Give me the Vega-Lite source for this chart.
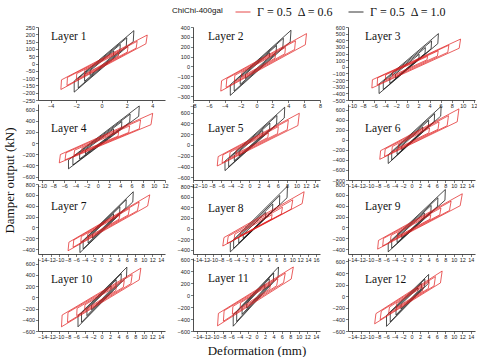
{
"$schema":"https://vega.github.io/schema/vega-lite/v6.json",
"padding":{"left":2,"top":4,"right":0,"bottom":0},
"bounds":"flush",
"columns":3,
"spacing":{"row":4,"column":28},
"datasets":{"d":[
{"p":1,"s":"1.0","l":1,"x":-2.15,"y":-196},{"p":1,"s":"1.0","l":1,"x":-2.15,"y":-120},{"p":1,"s":"1.0","l":1,"x":2.55,"y":225},{"p":1,"s":"1.0","l":1,"x":2.5,"y":150},
{"p":1,"s":"1.0","l":2,"x":-1.83,"y":-167},{"p":1,"s":"1.0","l":2,"x":-1.83,"y":-102},{"p":1,"s":"1.0","l":2,"x":1.99,"y":176},{"p":1,"s":"1.0","l":2,"x":1.95,"y":117},
{"p":1,"s":"1.0","l":3,"x":-1.33,"y":-122},{"p":1,"s":"1.0","l":3,"x":-1.33,"y":-74},{"p":1,"s":"1.0","l":3,"x":1.48,"y":131},{"p":1,"s":"1.0","l":3,"x":1.45,"y":87},
{"p":1,"s":"1.0","l":4,"x":-0.9,"y":-82},{"p":1,"s":"1.0","l":4,"x":-0.9,"y":-50},{"p":1,"s":"1.0","l":4,"x":0.97,"y":86},{"p":1,"s":"1.0","l":4,"x":0.95,"y":57},
{"p":1,"s":"0.6","l":1,"x":-3.2,"y":-178},{"p":1,"s":"0.6","l":1,"x":-3.15,"y":-112},{"p":1,"s":"0.6","l":1,"x":3.6,"y":195},{"p":1,"s":"0.6","l":1,"x":3.5,"y":135},
{"p":1,"s":"0.6","l":2,"x":-2.72,"y":-151},{"p":1,"s":"0.6","l":2,"x":-2.68,"y":-95},{"p":1,"s":"0.6","l":2,"x":2.81,"y":152},{"p":1,"s":"0.6","l":2,"x":2.73,"y":105},
{"p":1,"s":"0.6","l":3,"x":-1.98,"y":-110},{"p":1,"s":"0.6","l":3,"x":-1.95,"y":-69},{"p":1,"s":"0.6","l":3,"x":2.09,"y":113},{"p":1,"s":"0.6","l":3,"x":2.03,"y":78},
{"p":1,"s":"0.6","l":4,"x":-1.34,"y":-75},{"p":1,"s":"0.6","l":4,"x":-1.32,"y":-47},{"p":1,"s":"0.6","l":4,"x":1.37,"y":74},{"p":1,"s":"0.6","l":4,"x":1.33,"y":51},

{"p":2,"s":"1.0","l":1,"x":-3.3,"y":-293},{"p":2,"s":"1.0","l":1,"x":-3.3,"y":-185},{"p":2,"s":"1.0","l":1,"x":4.35,"y":367},{"p":2,"s":"1.0","l":1,"x":4.25,"y":250},
{"p":2,"s":"1.0","l":2,"x":-2.81,"y":-249},{"p":2,"s":"1.0","l":2,"x":-2.81,"y":-157},{"p":2,"s":"1.0","l":2,"x":3.39,"y":286},{"p":2,"s":"1.0","l":2,"x":3.32,"y":195},
{"p":2,"s":"1.0","l":3,"x":-2.05,"y":-182},{"p":2,"s":"1.0","l":3,"x":-2.05,"y":-115},{"p":2,"s":"1.0","l":3,"x":2.52,"y":213},{"p":2,"s":"1.0","l":3,"x":2.47,"y":145},
{"p":2,"s":"1.0","l":4,"x":-1.39,"y":-123},{"p":2,"s":"1.0","l":4,"x":-1.39,"y":-78},{"p":2,"s":"1.0","l":4,"x":1.65,"y":139},{"p":2,"s":"1.0","l":4,"x":1.62,"y":95},
{"p":2,"s":"0.6","l":1,"x":-4.5,"y":-250},{"p":2,"s":"0.6","l":1,"x":-4.4,"y":-145},{"p":2,"s":"0.6","l":1,"x":6.3,"y":333},{"p":2,"s":"0.6","l":1,"x":6.15,"y":220},
{"p":2,"s":"0.6","l":2,"x":-3.83,"y":-213},{"p":2,"s":"0.6","l":2,"x":-3.74,"y":-123},{"p":2,"s":"0.6","l":2,"x":4.91,"y":260},{"p":2,"s":"0.6","l":2,"x":4.8,"y":172},
{"p":2,"s":"0.6","l":3,"x":-2.79,"y":-155},{"p":2,"s":"0.6","l":3,"x":-2.73,"y":-90},{"p":2,"s":"0.6","l":3,"x":3.65,"y":193},{"p":2,"s":"0.6","l":3,"x":3.57,"y":128},
{"p":2,"s":"0.6","l":4,"x":-1.89,"y":-105},{"p":2,"s":"0.6","l":4,"x":-1.85,"y":-61},{"p":2,"s":"0.6","l":4,"x":2.39,"y":127},{"p":2,"s":"0.6","l":4,"x":2.34,"y":84},

{"p":3,"s":"1.0","l":1,"x":-5.1,"y":-403},{"p":3,"s":"1.0","l":1,"x":-5.1,"y":-260},{"p":3,"s":"1.0","l":1,"x":5.6,"y":500},{"p":3,"s":"1.0","l":1,"x":5.5,"y":350},
{"p":3,"s":"1.0","l":2,"x":-4.34,"y":-343},{"p":3,"s":"1.0","l":2,"x":-4.34,"y":-221},{"p":3,"s":"1.0","l":2,"x":4.37,"y":390},{"p":3,"s":"1.0","l":2,"x":4.29,"y":273},
{"p":3,"s":"1.0","l":3,"x":-3.16,"y":-250},{"p":3,"s":"1.0","l":3,"x":-3.16,"y":-161},{"p":3,"s":"1.0","l":3,"x":3.25,"y":290},{"p":3,"s":"1.0","l":3,"x":3.19,"y":203},
{"p":3,"s":"1.0","l":4,"x":-2.14,"y":-169},{"p":3,"s":"1.0","l":4,"x":-2.14,"y":-109},{"p":3,"s":"1.0","l":4,"x":2.13,"y":190},{"p":3,"s":"1.0","l":4,"x":2.09,"y":133},
{"p":3,"s":"0.6","l":1,"x":-6.4,"y":-320},{"p":3,"s":"0.6","l":1,"x":-6.3,"y":-195},{"p":3,"s":"0.6","l":1,"x":9.6,"y":418},{"p":3,"s":"0.6","l":1,"x":9.35,"y":280},
{"p":3,"s":"0.6","l":2,"x":-5.44,"y":-272},{"p":3,"s":"0.6","l":2,"x":-5.36,"y":-166},{"p":3,"s":"0.6","l":2,"x":7.49,"y":326},{"p":3,"s":"0.6","l":2,"x":7.29,"y":218},
{"p":3,"s":"0.6","l":3,"x":-3.97,"y":-198},{"p":3,"s":"0.6","l":3,"x":-3.91,"y":-121},{"p":3,"s":"0.6","l":3,"x":5.57,"y":242},{"p":3,"s":"0.6","l":3,"x":5.42,"y":162},
{"p":3,"s":"0.6","l":4,"x":-2.69,"y":-134},{"p":3,"s":"0.6","l":4,"x":-2.65,"y":-82},{"p":3,"s":"0.6","l":4,"x":3.65,"y":159},{"p":3,"s":"0.6","l":4,"x":3.55,"y":106},

{"p":4,"s":"1.0","l":1,"x":-5.25,"y":-460},{"p":4,"s":"1.0","l":1,"x":-5.25,"y":-300},{"p":4,"s":"1.0","l":1,"x":7.4,"y":665},{"p":4,"s":"1.0","l":1,"x":7.3,"y":480},
{"p":4,"s":"1.0","l":2,"x":-4.46,"y":-391},{"p":4,"s":"1.0","l":2,"x":-4.46,"y":-255},{"p":4,"s":"1.0","l":2,"x":5.77,"y":519},{"p":4,"s":"1.0","l":2,"x":5.69,"y":374},
{"p":4,"s":"1.0","l":3,"x":-3.26,"y":-285},{"p":4,"s":"1.0","l":3,"x":-3.26,"y":-186},{"p":4,"s":"1.0","l":3,"x":4.29,"y":386},{"p":4,"s":"1.0","l":3,"x":4.23,"y":278},
{"p":4,"s":"1.0","l":4,"x":-2.21,"y":-193},{"p":4,"s":"1.0","l":4,"x":-2.21,"y":-126},{"p":4,"s":"1.0","l":4,"x":2.81,"y":253},{"p":4,"s":"1.0","l":4,"x":2.77,"y":182},
{"p":4,"s":"0.6","l":1,"x":-6.9,"y":-353},{"p":4,"s":"0.6","l":1,"x":-6.7,"y":-204},{"p":4,"s":"0.6","l":1,"x":9.8,"y":533},{"p":4,"s":"0.6","l":1,"x":9.5,"y":330},
{"p":4,"s":"0.6","l":2,"x":-5.87,"y":-300},{"p":4,"s":"0.6","l":2,"x":-5.7,"y":-173},{"p":4,"s":"0.6","l":2,"x":7.64,"y":416},{"p":4,"s":"0.6","l":2,"x":7.41,"y":257},
{"p":4,"s":"0.6","l":3,"x":-4.28,"y":-219},{"p":4,"s":"0.6","l":3,"x":-4.15,"y":-126},{"p":4,"s":"0.6","l":3,"x":5.68,"y":309},{"p":4,"s":"0.6","l":3,"x":5.51,"y":191},
{"p":4,"s":"0.6","l":4,"x":-2.9,"y":-148},{"p":4,"s":"0.6","l":4,"x":-2.81,"y":-86},{"p":4,"s":"0.6","l":4,"x":3.72,"y":203},{"p":4,"s":"0.6","l":4,"x":3.61,"y":125},

{"p":5,"s":"1.0","l":1,"x":-5.2,"y":-476},{"p":5,"s":"1.0","l":1,"x":-5.2,"y":-300},{"p":5,"s":"1.0","l":1,"x":7.5,"y":700},{"p":5,"s":"1.0","l":1,"x":7.4,"y":500},
{"p":5,"s":"1.0","l":2,"x":-4.42,"y":-405},{"p":5,"s":"1.0","l":2,"x":-4.42,"y":-255},{"p":5,"s":"1.0","l":2,"x":5.85,"y":546},{"p":5,"s":"1.0","l":2,"x":5.77,"y":390},
{"p":5,"s":"1.0","l":3,"x":-3.22,"y":-295},{"p":5,"s":"1.0","l":3,"x":-3.22,"y":-186},{"p":5,"s":"1.0","l":3,"x":4.35,"y":406},{"p":5,"s":"1.0","l":3,"x":4.29,"y":290},
{"p":5,"s":"1.0","l":4,"x":-2.18,"y":-200},{"p":5,"s":"1.0","l":4,"x":-2.18,"y":-126},{"p":5,"s":"1.0","l":4,"x":2.85,"y":266},{"p":5,"s":"1.0","l":4,"x":2.81,"y":190},
{"p":5,"s":"0.6","l":1,"x":-6.85,"y":-390},{"p":5,"s":"0.6","l":1,"x":-6.65,"y":-216},{"p":5,"s":"0.6","l":1,"x":10.6,"y":588},{"p":5,"s":"0.6","l":1,"x":10.3,"y":360},
{"p":5,"s":"0.6","l":2,"x":-5.82,"y":-332},{"p":5,"s":"0.6","l":2,"x":-5.65,"y":-184},{"p":5,"s":"0.6","l":2,"x":8.27,"y":459},{"p":5,"s":"0.6","l":2,"x":8.03,"y":281},
{"p":5,"s":"0.6","l":3,"x":-4.25,"y":-242},{"p":5,"s":"0.6","l":3,"x":-4.12,"y":-134},{"p":5,"s":"0.6","l":3,"x":6.15,"y":341},{"p":5,"s":"0.6","l":3,"x":5.97,"y":209},
{"p":5,"s":"0.6","l":4,"x":-2.88,"y":-164},{"p":5,"s":"0.6","l":4,"x":-2.79,"y":-91},{"p":5,"s":"0.6","l":4,"x":4.03,"y":223},{"p":5,"s":"0.6","l":4,"x":3.91,"y":137},

{"p":6,"s":"1.0","l":1,"x":-5.5,"y":-472},{"p":6,"s":"1.0","l":1,"x":-5.5,"y":-300},{"p":6,"s":"1.0","l":1,"x":7.0,"y":664},{"p":6,"s":"1.0","l":1,"x":6.9,"y":470},
{"p":6,"s":"1.0","l":2,"x":-4.68,"y":-401},{"p":6,"s":"1.0","l":2,"x":-4.68,"y":-255},{"p":6,"s":"1.0","l":2,"x":5.46,"y":518},{"p":6,"s":"1.0","l":2,"x":5.38,"y":367},
{"p":6,"s":"1.0","l":3,"x":-3.41,"y":-293},{"p":6,"s":"1.0","l":3,"x":-3.41,"y":-186},{"p":6,"s":"1.0","l":3,"x":4.06,"y":385},{"p":6,"s":"1.0","l":3,"x":4.0,"y":273},
{"p":6,"s":"1.0","l":4,"x":-2.31,"y":-198},{"p":6,"s":"1.0","l":4,"x":-2.31,"y":-126},{"p":6,"s":"1.0","l":4,"x":2.66,"y":252},{"p":6,"s":"1.0","l":4,"x":2.62,"y":179},
{"p":6,"s":"0.6","l":1,"x":-7.5,"y":-389},{"p":6,"s":"0.6","l":1,"x":-7.3,"y":-217},{"p":6,"s":"0.6","l":1,"x":11.2,"y":613},{"p":6,"s":"0.6","l":1,"x":10.8,"y":357},
{"p":6,"s":"0.6","l":2,"x":-6.38,"y":-331},{"p":6,"s":"0.6","l":2,"x":-6.21,"y":-184},{"p":6,"s":"0.6","l":2,"x":8.74,"y":478},{"p":6,"s":"0.6","l":2,"x":8.42,"y":278},
{"p":6,"s":"0.6","l":3,"x":-4.65,"y":-241},{"p":6,"s":"0.6","l":3,"x":-4.53,"y":-135},{"p":6,"s":"0.6","l":3,"x":6.5,"y":356},{"p":6,"s":"0.6","l":3,"x":6.26,"y":207},
{"p":6,"s":"0.6","l":4,"x":-3.15,"y":-163},{"p":6,"s":"0.6","l":4,"x":-3.07,"y":-91},{"p":6,"s":"0.6","l":4,"x":4.26,"y":233},{"p":6,"s":"0.6","l":4,"x":4.1,"y":136},

{"p":7,"s":"1.0","l":1,"x":-5.1,"y":-465},{"p":7,"s":"1.0","l":1,"x":-5.1,"y":-300},{"p":7,"s":"1.0","l":1,"x":7.5,"y":657},{"p":7,"s":"1.0","l":1,"x":7.4,"y":470},
{"p":7,"s":"1.0","l":2,"x":-4.34,"y":-395},{"p":7,"s":"1.0","l":2,"x":-4.34,"y":-255},{"p":7,"s":"1.0","l":2,"x":5.85,"y":512},{"p":7,"s":"1.0","l":2,"x":5.77,"y":367},
{"p":7,"s":"1.0","l":3,"x":-3.16,"y":-288},{"p":7,"s":"1.0","l":3,"x":-3.16,"y":-186},{"p":7,"s":"1.0","l":3,"x":4.35,"y":381},{"p":7,"s":"1.0","l":3,"x":4.29,"y":273},
{"p":7,"s":"1.0","l":4,"x":-2.14,"y":-195},{"p":7,"s":"1.0","l":4,"x":-2.14,"y":-126},{"p":7,"s":"1.0","l":4,"x":2.85,"y":250},{"p":7,"s":"1.0","l":4,"x":2.81,"y":179},
{"p":7,"s":"0.6","l":1,"x":-7.9,"y":-430},{"p":7,"s":"0.6","l":1,"x":-7.7,"y":-273},{"p":7,"s":"0.6","l":1,"x":11.4,"y":600},{"p":7,"s":"0.6","l":1,"x":10.9,"y":395},
{"p":7,"s":"0.6","l":2,"x":-6.72,"y":-366},{"p":7,"s":"0.6","l":2,"x":-6.55,"y":-232},{"p":7,"s":"0.6","l":2,"x":8.89,"y":468},{"p":7,"s":"0.6","l":2,"x":8.5,"y":308},
{"p":7,"s":"0.6","l":3,"x":-4.9,"y":-267},{"p":7,"s":"0.6","l":3,"x":-4.77,"y":-169},{"p":7,"s":"0.6","l":3,"x":6.61,"y":348},{"p":7,"s":"0.6","l":3,"x":6.32,"y":229},
{"p":7,"s":"0.6","l":4,"x":-3.32,"y":-181},{"p":7,"s":"0.6","l":4,"x":-3.23,"y":-115},{"p":7,"s":"0.6","l":4,"x":4.33,"y":228},{"p":7,"s":"0.6","l":4,"x":4.14,"y":150},

{"p":8,"s":"1.0","l":1,"x":-5.6,"y":-440},{"p":8,"s":"1.0","l":1,"x":-5.6,"y":-270},{"p":8,"s":"1.0","l":1,"x":8.8,"y":800},{"p":8,"s":"1.0","l":1,"x":8.7,"y":580},
{"p":8,"s":"1.0","l":2,"x":-4.76,"y":-374},{"p":8,"s":"1.0","l":2,"x":-4.76,"y":-230},{"p":8,"s":"1.0","l":2,"x":6.86,"y":624},{"p":8,"s":"1.0","l":2,"x":6.79,"y":452},
{"p":8,"s":"1.0","l":3,"x":-3.47,"y":-273},{"p":8,"s":"1.0","l":3,"x":-3.47,"y":-167},{"p":8,"s":"1.0","l":3,"x":5.1,"y":464},{"p":8,"s":"1.0","l":3,"x":5.05,"y":336},
{"p":8,"s":"1.0","l":4,"x":-2.35,"y":-185},{"p":8,"s":"1.0","l":4,"x":-2.35,"y":-113},{"p":8,"s":"1.0","l":4,"x":3.34,"y":304},{"p":8,"s":"1.0","l":4,"x":3.31,"y":220},
{"p":8,"s":"0.6","l":1,"x":-7.5,"y":-330},{"p":8,"s":"0.6","l":1,"x":-7.2,"y":-170},{"p":8,"s":"0.6","l":1,"x":13.0,"y":694},{"p":8,"s":"0.6","l":1,"x":12.5,"y":470},
{"p":8,"s":"0.6","l":2,"x":-6.38,"y":-281},{"p":8,"s":"0.6","l":2,"x":-6.12,"y":-145},{"p":8,"s":"0.6","l":2,"x":10.14,"y":541},{"p":8,"s":"0.6","l":2,"x":9.75,"y":367},
{"p":8,"s":"0.6","l":3,"x":-4.65,"y":-205},{"p":8,"s":"0.6","l":3,"x":-4.46,"y":-105},{"p":8,"s":"0.6","l":3,"x":7.54,"y":403},{"p":8,"s":"0.6","l":3,"x":7.25,"y":273},
{"p":8,"s":"0.6","l":4,"x":-3.15,"y":-139},{"p":8,"s":"0.6","l":4,"x":-3.02,"y":-71},{"p":8,"s":"0.6","l":4,"x":4.94,"y":264},{"p":8,"s":"0.6","l":4,"x":4.75,"y":179},

{"p":9,"s":"1.0","l":1,"x":-5.5,"y":-450},{"p":9,"s":"1.0","l":1,"x":-5.5,"y":-290},{"p":9,"s":"1.0","l":1,"x":8.0,"y":700},{"p":9,"s":"1.0","l":1,"x":7.9,"y":500},
{"p":9,"s":"1.0","l":2,"x":-4.68,"y":-383},{"p":9,"s":"1.0","l":2,"x":-4.68,"y":-247},{"p":9,"s":"1.0","l":2,"x":6.24,"y":546},{"p":9,"s":"1.0","l":2,"x":6.16,"y":390},
{"p":9,"s":"1.0","l":3,"x":-3.41,"y":-279},{"p":9,"s":"1.0","l":3,"x":-3.41,"y":-180},{"p":9,"s":"1.0","l":3,"x":4.64,"y":406},{"p":9,"s":"1.0","l":3,"x":4.58,"y":290},
{"p":9,"s":"1.0","l":4,"x":-2.31,"y":-189},{"p":9,"s":"1.0","l":4,"x":-2.31,"y":-122},{"p":9,"s":"1.0","l":4,"x":3.04,"y":266},{"p":9,"s":"1.0","l":4,"x":3.0,"y":190},
{"p":9,"s":"0.6","l":1,"x":-8.0,"y":-400},{"p":9,"s":"0.6","l":1,"x":-7.8,"y":-240},{"p":9,"s":"0.6","l":1,"x":12.0,"y":620},{"p":9,"s":"0.6","l":1,"x":11.5,"y":400},
{"p":9,"s":"0.6","l":2,"x":-6.8,"y":-340},{"p":9,"s":"0.6","l":2,"x":-6.63,"y":-204},{"p":9,"s":"0.6","l":2,"x":9.36,"y":484},{"p":9,"s":"0.6","l":2,"x":8.97,"y":312},
{"p":9,"s":"0.6","l":3,"x":-4.96,"y":-248},{"p":9,"s":"0.6","l":3,"x":-4.84,"y":-149},{"p":9,"s":"0.6","l":3,"x":6.96,"y":360},{"p":9,"s":"0.6","l":3,"x":6.67,"y":232},
{"p":9,"s":"0.6","l":4,"x":-3.36,"y":-168},{"p":9,"s":"0.6","l":4,"x":-3.28,"y":-101},{"p":9,"s":"0.6","l":4,"x":4.56,"y":236},{"p":9,"s":"0.6","l":4,"x":4.37,"y":152},

{"p":10,"s":"1.0","l":1,"x":-5.55,"y":-525},{"p":10,"s":"1.0","l":1,"x":-5.55,"y":-330},{"p":10,"s":"1.0","l":1,"x":6.0,"y":537},{"p":10,"s":"1.0","l":1,"x":5.9,"y":360},
{"p":10,"s":"1.0","l":2,"x":-4.72,"y":-446},{"p":10,"s":"1.0","l":2,"x":-4.72,"y":-281},{"p":10,"s":"1.0","l":2,"x":4.68,"y":419},{"p":10,"s":"1.0","l":2,"x":4.6,"y":281},
{"p":10,"s":"1.0","l":3,"x":-3.44,"y":-326},{"p":10,"s":"1.0","l":3,"x":-3.44,"y":-205},{"p":10,"s":"1.0","l":3,"x":3.48,"y":311},{"p":10,"s":"1.0","l":3,"x":3.42,"y":209},
{"p":10,"s":"1.0","l":4,"x":-2.33,"y":-221},{"p":10,"s":"1.0","l":4,"x":-2.33,"y":-139},{"p":10,"s":"1.0","l":4,"x":2.28,"y":204},{"p":10,"s":"1.0","l":4,"x":2.24,"y":137},
{"p":10,"s":"0.6","l":1,"x":-9.45,"y":-525},{"p":10,"s":"0.6","l":1,"x":-9.3,"y":-316},{"p":10,"s":"0.6","l":1,"x":9.3,"y":519},{"p":10,"s":"0.6","l":1,"x":8.9,"y":310},
{"p":10,"s":"0.6","l":2,"x":-8.03,"y":-446},{"p":10,"s":"0.6","l":2,"x":-7.91,"y":-269},{"p":10,"s":"0.6","l":2,"x":7.25,"y":405},{"p":10,"s":"0.6","l":2,"x":6.94,"y":242},
{"p":10,"s":"0.6","l":3,"x":-5.86,"y":-326},{"p":10,"s":"0.6","l":3,"x":-5.77,"y":-196},{"p":10,"s":"0.6","l":3,"x":5.39,"y":301},{"p":10,"s":"0.6","l":3,"x":5.16,"y":180},
{"p":10,"s":"0.6","l":4,"x":-3.97,"y":-221},{"p":10,"s":"0.6","l":4,"x":-3.91,"y":-133},{"p":10,"s":"0.6","l":4,"x":3.53,"y":197},{"p":10,"s":"0.6","l":4,"x":3.38,"y":118},

{"p":11,"s":"1.0","l":1,"x":-5.5,"y":-520},{"p":11,"s":"1.0","l":1,"x":-5.5,"y":-330},{"p":11,"s":"1.0","l":1,"x":5.2,"y":470},{"p":11,"s":"1.0","l":1,"x":5.1,"y":300},
{"p":11,"s":"1.0","l":2,"x":-4.68,"y":-442},{"p":11,"s":"1.0","l":2,"x":-4.68,"y":-281},{"p":11,"s":"1.0","l":2,"x":4.06,"y":367},{"p":11,"s":"1.0","l":2,"x":3.98,"y":234},
{"p":11,"s":"1.0","l":3,"x":-3.41,"y":-322},{"p":11,"s":"1.0","l":3,"x":-3.41,"y":-205},{"p":11,"s":"1.0","l":3,"x":3.02,"y":273},{"p":11,"s":"1.0","l":3,"x":2.96,"y":174},
{"p":11,"s":"1.0","l":4,"x":-2.31,"y":-218},{"p":11,"s":"1.0","l":4,"x":-2.31,"y":-139},{"p":11,"s":"1.0","l":4,"x":1.98,"y":179},{"p":11,"s":"1.0","l":4,"x":1.94,"y":114},
{"p":11,"s":"0.6","l":1,"x":-9.2,"y":-514},{"p":11,"s":"0.6","l":1,"x":-9.0,"y":-306},{"p":11,"s":"0.6","l":1,"x":8.7,"y":470},{"p":11,"s":"0.6","l":1,"x":8.2,"y":268},
{"p":11,"s":"0.6","l":2,"x":-7.82,"y":-437},{"p":11,"s":"0.6","l":2,"x":-7.65,"y":-260},{"p":11,"s":"0.6","l":2,"x":6.79,"y":367},{"p":11,"s":"0.6","l":2,"x":6.4,"y":209},
{"p":11,"s":"0.6","l":3,"x":-5.7,"y":-319},{"p":11,"s":"0.6","l":3,"x":-5.58,"y":-190},{"p":11,"s":"0.6","l":3,"x":5.05,"y":273},{"p":11,"s":"0.6","l":3,"x":4.76,"y":155},
{"p":11,"s":"0.6","l":4,"x":-3.86,"y":-216},{"p":11,"s":"0.6","l":4,"x":-3.78,"y":-129},{"p":11,"s":"0.6","l":4,"x":3.31,"y":179},{"p":11,"s":"0.6","l":4,"x":3.12,"y":102},

{"p":12,"s":"1.0","l":1,"x":-5.9,"y":-520},{"p":12,"s":"1.0","l":1,"x":-5.9,"y":-330},{"p":12,"s":"1.0","l":1,"x":4.06,"y":376},{"p":12,"s":"1.0","l":1,"x":3.96,"y":220},
{"p":12,"s":"1.0","l":2,"x":-5.02,"y":-442},{"p":12,"s":"1.0","l":2,"x":-5.02,"y":-281},{"p":12,"s":"1.0","l":2,"x":3.17,"y":293},{"p":12,"s":"1.0","l":2,"x":3.09,"y":172},
{"p":12,"s":"1.0","l":3,"x":-3.66,"y":-322},{"p":12,"s":"1.0","l":3,"x":-3.66,"y":-205},{"p":12,"s":"1.0","l":3,"x":2.35,"y":218},{"p":12,"s":"1.0","l":3,"x":2.3,"y":128},
{"p":12,"s":"1.0","l":4,"x":-2.48,"y":-218},{"p":12,"s":"1.0","l":4,"x":-2.48,"y":-139},{"p":12,"s":"1.0","l":4,"x":1.54,"y":143},{"p":12,"s":"1.0","l":4,"x":1.5,"y":84},
{"p":12,"s":"0.6","l":1,"x":-8.7,"y":-476},{"p":12,"s":"0.6","l":1,"x":-8.4,"y":-300},{"p":12,"s":"0.6","l":1,"x":7.24,"y":435},{"p":12,"s":"0.6","l":1,"x":6.84,"y":230},
{"p":12,"s":"0.6","l":2,"x":-7.4,"y":-405},{"p":12,"s":"0.6","l":2,"x":-7.14,"y":-255},{"p":12,"s":"0.6","l":2,"x":5.65,"y":339},{"p":12,"s":"0.6","l":2,"x":5.34,"y":179},
{"p":12,"s":"0.6","l":3,"x":-5.39,"y":-295},{"p":12,"s":"0.6","l":3,"x":-5.21,"y":-186},{"p":12,"s":"0.6","l":3,"x":4.2,"y":252},{"p":12,"s":"0.6","l":3,"x":3.97,"y":133},
{"p":12,"s":"0.6","l":4,"x":-3.65,"y":-200},{"p":12,"s":"0.6","l":4,"x":-3.53,"y":-126},{"p":12,"s":"0.6","l":4,"x":2.75,"y":165},{"p":12,"s":"0.6","l":4,"x":2.6,"y":87}
]},
"data":{"name":"d"},
"concat":[
{"width":127,"height":73,"title":{"text":"Layer 1","offset":-17.5,"dx":13},"transform":[{"filter":"datum.p==1"}],"mark":{"type":"line","interpolate":"linear-closed","strokeWidth":0.7},
 "encoding":{"x":{"field":"x","type":"quantitative","title":null,"scale":{"domain":[-5,5],"nice":false,"zero":false},"axis":{"values":[-4,-2,0,2,4]}},
 "y":{"field":"y","type":"quantitative","title":null,"scale":{"domain":[-250,250],"nice":false,"zero":false},"axis":{"values":[-250,-200,-150,-100,-50,0,50,100,150,200,250]}},
 "color":{"field":"s","type":"nominal","title":"ChiChi-400gal","legend":{"labelExpr":"'Γ = 0.5\u00a0\u00a0Δ = ' + datum.value"}},
 "detail":{"field":"l","type":"nominal"},"order":{"value":null}}},
{"width":127,"height":73,"title":{"text":"Layer 2","offset":-17.5,"dx":15},"transform":[{"filter":"datum.p==2"}],"mark":{"type":"line","interpolate":"linear-closed","strokeWidth":0.7},
 "encoding":{"x":{"field":"x","type":"quantitative","title":null,"scale":{"domain":[-8,8],"nice":false,"zero":false},"axis":{"values":[-8,-6,-4,-2,0,2,4,6,8]}},
 "y":{"field":"y","type":"quantitative","title":null,"scale":{"domain":[-340,400],"nice":false,"zero":false},"axis":{"values":[-300,-200,-100,0,100,200,300,400]}},
 "color":{"field":"s","type":"nominal","title":"ChiChi-400gal","legend":{"labelExpr":"'Γ = 0.5\u00a0\u00a0Δ = ' + datum.value"}},
 "detail":{"field":"l","type":"nominal"},"order":{"value":null}}},
{"width":127,"height":73,"title":{"text":"Layer 3","offset":-17.5,"dx":17},"transform":[{"filter":"datum.p==3"}],"mark":{"type":"line","interpolate":"linear-closed","strokeWidth":0.7},
 "encoding":{"x":{"field":"x","type":"quantitative","title":null,"scale":{"domain":[-10.7,12.2],"nice":false,"zero":false},"axis":{"values":[-10,-8,-6,-4,-2,0,2,4,6,8,10,12]}},
 "y":{"field":"y","type":"quantitative","title":null,"scale":{"domain":[-500,600],"nice":false,"zero":false},"axis":{"values":[-500,-400,-300,-200,-100,0,100,200,300,400,500,600]}},
 "color":{"field":"s","type":"nominal","title":"ChiChi-400gal","legend":{"labelExpr":"'Γ = 0.5\u00a0\u00a0Δ = ' + datum.value"}},
 "detail":{"field":"l","type":"nominal"},"order":{"value":null}}},
{"width":127,"height":76,"title":{"text":"Layer 4","offset":-30.5,"dx":13},"transform":[{"filter":"datum.p==4"}],"mark":{"type":"line","interpolate":"linear-closed","strokeWidth":0.7},
 "encoding":{"x":{"field":"x","type":"quantitative","title":null,"scale":{"domain":[-10.7,12],"nice":false,"zero":false},"axis":{"values":[-10,-8,-6,-4,-2,0,2,4,6,8,10,12]}},
 "y":{"field":"y","type":"quantitative","title":"Damper output (kN)","scale":{"domain":[-660,700],"nice":false,"zero":false},"axis":{"values":[-600,-400,-200,0,200,400,600],"titleX":-22,"titleY":76}},
 "color":{"field":"s","type":"nominal","title":"ChiChi-400gal","legend":{"labelExpr":"'Γ = 0.5\u00a0\u00a0Δ = ' + datum.value"}},
 "detail":{"field":"l","type":"nominal"},"order":{"value":null}}},
{"width":127,"height":76,"title":{"text":"Layer 5","offset":-30.5,"dx":15},"transform":[{"filter":"datum.p==5"}],"mark":{"type":"line","interpolate":"linear-closed","strokeWidth":0.7},
 "encoding":{"x":{"field":"x","type":"quantitative","title":null,"scale":{"domain":[-12,15],"nice":false,"zero":false},"axis":{"values":[-12,-10,-8,-6,-4,-2,0,2,4,6,8,10,12,14]}},
 "y":{"field":"y","type":"quantitative","title":null,"scale":{"domain":[-650,760],"nice":false,"zero":false},"axis":{"values":[-600,-400,-200,0,200,400,600]}},
 "color":{"field":"s","type":"nominal","title":"ChiChi-400gal","legend":{"labelExpr":"'Γ = 0.5\u00a0\u00a0Δ = ' + datum.value"}},
 "detail":{"field":"l","type":"nominal"},"order":{"value":null}}},
{"width":127,"height":76,"title":{"text":"Layer 6","offset":-30.5,"dx":17},"transform":[{"filter":"datum.p==6"}],"mark":{"type":"line","interpolate":"linear-closed","strokeWidth":0.7},
 "encoding":{"x":{"field":"x","type":"quantitative","title":null,"scale":{"domain":[-15,15],"nice":false,"zero":false},"axis":{"values":[-14,-12,-10,-8,-6,-4,-2,0,2,4,6,8,10,12,14]}},
 "y":{"field":"y","type":"quantitative","title":null,"scale":{"domain":[-800,710],"nice":false,"zero":false},"axis":{"values":[-800,-600,-400,-200,0,200,400,600]}},
 "color":{"field":"s","type":"nominal","title":"ChiChi-400gal","legend":{"labelExpr":"'Γ = 0.5\u00a0\u00a0Δ = ' + datum.value"}},
 "detail":{"field":"l","type":"nominal"},"order":{"value":null}}},
{"width":127,"height":70,"title":{"text":"Layer 7","offset":-30.5,"dx":13},"transform":[{"filter":"datum.p==7"}],"mark":{"type":"line","interpolate":"linear-closed","strokeWidth":0.7},
 "encoding":{"x":{"field":"x","type":"quantitative","title":null,"scale":{"domain":[-15,15],"nice":false,"zero":false},"axis":{"values":[-14,-12,-10,-8,-6,-4,-2,0,2,4,6,8,10,12,14]}},
 "y":{"field":"y","type":"quantitative","title":null,"scale":{"domain":[-490,800],"nice":false,"zero":false},"axis":{"values":[-400,-200,0,200,400,600,800]}},
 "color":{"field":"s","type":"nominal","title":"ChiChi-400gal","legend":{"labelExpr":"'Γ = 0.5\u00a0\u00a0Δ = ' + datum.value"}},
 "detail":{"field":"l","type":"nominal"},"order":{"value":null}}},
{"width":127,"height":70,"title":{"text":"Layer 8","offset":-30.5,"dx":15},"transform":[{"filter":"datum.p==8"}],"mark":{"type":"line","interpolate":"linear-closed","strokeWidth":0.7},
 "encoding":{"x":{"field":"x","type":"quantitative","title":null,"scale":{"domain":[-15,17],"nice":false,"zero":false},"axis":{"values":[-14,-12,-10,-8,-6,-4,-2,0,2,4,6,8,10,12,14,16]}},
 "y":{"field":"y","type":"quantitative","title":null,"scale":{"domain":[-480,840],"nice":false,"zero":false},"axis":{"values":[-400,-200,0,200,400,600,800]}},
 "color":{"field":"s","type":"nominal","title":"ChiChi-400gal","legend":{"labelExpr":"'Γ = 0.5\u00a0\u00a0Δ = ' + datum.value"}},
 "detail":{"field":"l","type":"nominal"},"order":{"value":null}}},
{"width":127,"height":70,"title":{"text":"Layer 9","offset":-30.5,"dx":17},"transform":[{"filter":"datum.p==9"}],"mark":{"type":"line","interpolate":"linear-closed","strokeWidth":0.7},
 "encoding":{"x":{"field":"x","type":"quantitative","title":null,"scale":{"domain":[-15,15],"nice":false,"zero":false},"axis":{"values":[-14,-12,-10,-8,-6,-4,-2,0,2,4,6,8,10,12,14]}},
 "y":{"field":"y","type":"quantitative","title":null,"scale":{"domain":[-490,800],"nice":false,"zero":false},"axis":{"values":[-400,-200,0,200,400,600,800]}},
 "color":{"field":"s","type":"nominal","title":"ChiChi-400gal","legend":{"labelExpr":"'Γ = 0.5\u00a0\u00a0Δ = ' + datum.value"}},
 "detail":{"field":"l","type":"nominal"},"order":{"value":null}}},
{"width":127,"height":73,"title":{"text":"Layer 10","offset":-27.5,"dx":13},"transform":[{"filter":"datum.p==10"}],"mark":{"type":"line","interpolate":"linear-closed","strokeWidth":0.7},
 "encoding":{"x":{"field":"x","type":"quantitative","title":null,"scale":{"domain":[-15,15],"nice":false,"zero":false},"axis":{"values":[-14,-12,-10,-8,-6,-4,-2,0,2,4,6,8,10,12,14]}},
 "y":{"field":"y","type":"quantitative","title":null,"scale":{"domain":[-600,700],"nice":false,"zero":false},"axis":{"values":[-600,-400,-200,0,200,400,600]}},
 "color":{"field":"s","type":"nominal","title":"ChiChi-400gal","legend":{"labelExpr":"'Γ = 0.5\u00a0\u00a0Δ = ' + datum.value"}},
 "detail":{"field":"l","type":"nominal"},"order":{"value":null}}},
{"width":127,"height":73,"title":{"text":"Layer 11","offset":-27.5,"dx":15},"transform":[{"filter":"datum.p==11"}],"mark":{"type":"line","interpolate":"linear-closed","strokeWidth":0.7},
 "encoding":{"x":{"field":"x","type":"quantitative","title":"Deformation (mm)","scale":{"domain":[-15,15],"nice":false,"zero":false},"axis":{"values":[-14,-12,-10,-8,-6,-4,-2,0,2,4,6,8,10,12,14]}},
 "y":{"field":"y","type":"quantitative","title":null,"scale":{"domain":[-600,620],"nice":false,"zero":false},"axis":{"values":[-600,-400,-200,0,200,400,600]}},
 "color":{"field":"s","type":"nominal","title":"ChiChi-400gal","legend":{"labelExpr":"'Γ = 0.5\u00a0\u00a0Δ = ' + datum.value"}},
 "detail":{"field":"l","type":"nominal"},"order":{"value":null}}},
{"width":127,"height":73,"title":{"text":"Layer 12","offset":-27.5,"dx":17},"transform":[{"filter":"datum.p==12"}],"mark":{"type":"line","interpolate":"linear-closed","strokeWidth":0.7},
 "encoding":{"x":{"field":"x","type":"quantitative","title":null,"scale":{"domain":[-15,15],"nice":false,"zero":false},"axis":{"values":[-14,-12,-10,-8,-6,-4,-2,0,2,4,6,8,10,12,14]}},
 "y":{"field":"y","type":"quantitative","title":null,"scale":{"domain":[-600,660],"nice":false,"zero":false},"axis":{"values":[-600,-400,-200,0,200,400,600]}},
 "color":{"field":"s","type":"nominal","title":"ChiChi-400gal","legend":{"labelExpr":"'Γ = 0.5\u00a0\u00a0Δ = ' + datum.value"}},
 "detail":{"field":"l","type":"nominal"},"order":{"value":null}}}
],
"config":{
 "view":{"stroke":null},
 "axis":{"grid":false,"labelFont":"Liberation Sans","labelFontSize":5.5,"labelColor":"#222","labelPadding":1,"labelOverlap":false,"labelFlush":false,"domainColor":"#222","domainWidth":0.8,"tickColor":"#222","tickSize":2.5,"tickWidth":0.6,"titleFont":"Liberation Serif","titleFontSize":13,"titleFontWeight":"normal","titleColor":"#111"},
 "title":{"anchor":"start","frame":"group","font":"Liberation Serif","fontSize":11.5,"fontWeight":"normal","color":"#111","baseline":"alphabetic"},
 "legend":{"orient":"none","legendX":134,"legendY":-23,"direction":"horizontal","titleOrient":"left","titleFont":"Liberation Sans","titleFontSize":8,"titleFontWeight":"normal","titleColor":"#111","titlePadding":12,"labelFont":"Liberation Serif","labelFontSize":12,"labelColor":"#111","symbolType":"stroke","symbolSize":225,"symbolStrokeWidth":0.8,"columnPadding":12,"labelOffset":6},
 "range":{"category":["#e01a1a","#000000"]}
}
}
